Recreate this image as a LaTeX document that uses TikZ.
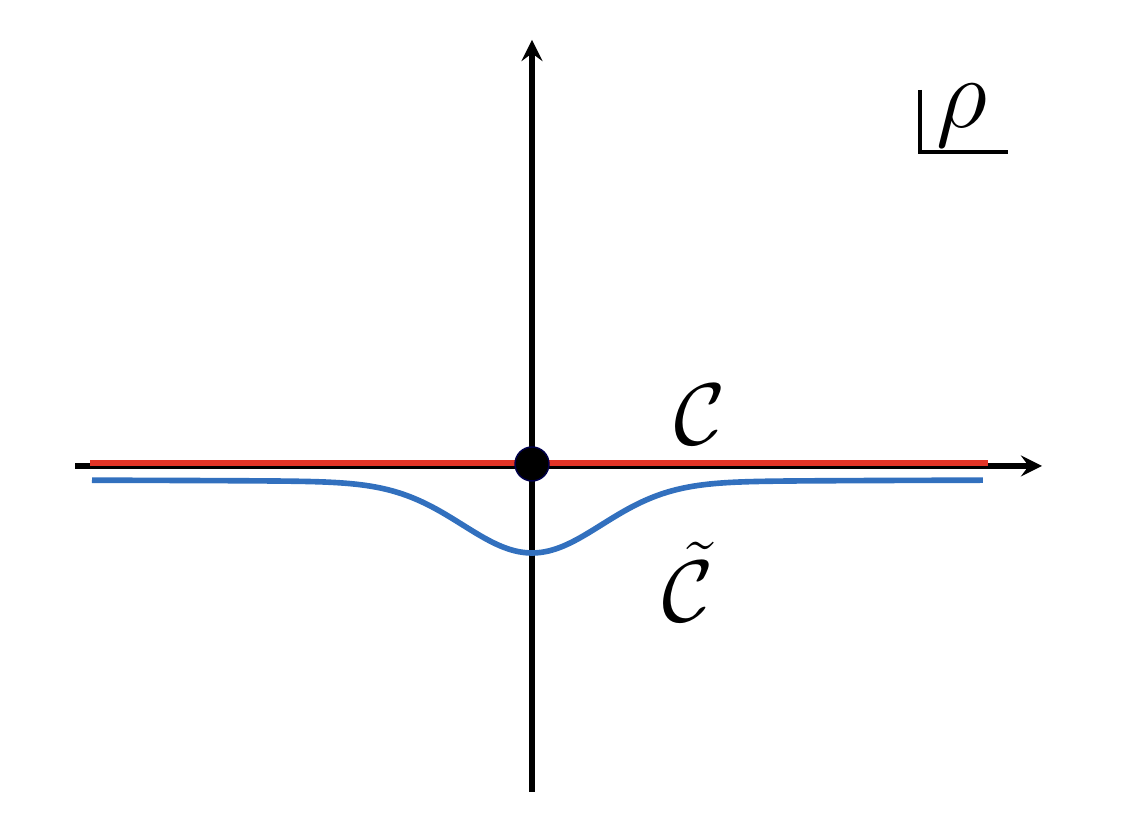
\documentclass[tikz,border=0pt]{standalone}
\usepackage{amsmath}
\usepackage{amssymb}
\usepackage{xcolor}
\usetikzlibrary{arrows, positioning, calc}
\definecolor{cred}{RGB}{226,52,38}
\definecolor{cblue}{RGB}{50,112,190}
\tikzstyle{axis} = [line width=1.6pt,->,>=stealth]

\begin{document}
\begin{tikzpicture}
\useasboundingbox (0,0) rectangle (11.42,8.24);

% Axes
\coordinate (xl) at (0.75,3.58);
\coordinate (xr) at (10.42,3.58);
\coordinate (yb) at (5.32,0.32);
\coordinate (yt) at (5.32,7.84);
\draw[axis] (xl) -- (xr);
\draw[axis] (yb) -- (yt);

% Contours
\draw[cred, line width=1.8pt] (0.9,3.61) -- (9.88,3.61);
\draw[cblue, line width=1.6pt, domain=0.92:9.83, samples=120, smooth]
  plot (\x,{3.44-0.71*exp(-((\x-5.32)/0.98)^2)-0.02*exp(-((\x-5.32)/3)^2)});

% Origin
\node[circle, fill=black, draw=black!70!blue, minimum size=0.34cm, inner sep=0pt] (o) at (5.32,3.6) {};

% Labels
\node[font=\Huge] (c) at (7.0,4.09) {$\mathcal{C}$};
\node[font=\Huge] (ct) at (6.88,2.42) {$\tilde{\mathcal{C}}$};

% Plane label
\node[font=\Huge, scale=1.15] (rho) at (9.62,7.08) {$\rho$};
\draw[line width=1pt] (9.2,7.34) -- (9.2,6.72) -- (10.08,6.72);
\end{tikzpicture}
\end{document}
